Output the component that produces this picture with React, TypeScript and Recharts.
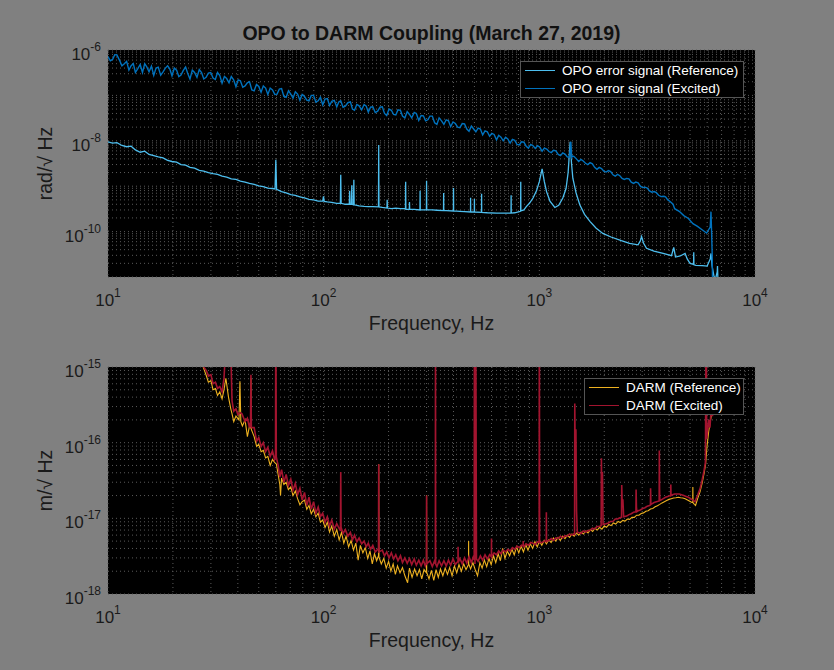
import React from 'react';
import { LineChart, Line, XAxis, YAxis, CartesianGrid, Legend } from 'recharts';

/**
 * OPO to DARM coupling — two stacked log-log spectra (MATLAB look:
 * grey figure, black axes, dotted minor grid).
 */

const FONT = '"Liberation Sans", Arial, Helvetica, sans-serif';
const INK = '#1a1a1a';
const GRID = '#5a5a5a';

// ---- top panel: OPO error signal, reference ----
const topRefFreq = [
  10, 10.5, 11, 11.6, 12.2, 12.8, 13.4, 14.1, 14.8, 15.5,
  16.3, 17.1, 18, 18.9, 19.8, 20.8, 21.8, 22.9, 24, 25.2,
  26.5, 27.8, 29.2, 30.7, 32.2, 33.8, 35.5, 37.3, 39.2, 41.1,
  43.2, 45.3, 47.6, 50, 52.5, 55.1, 57.9, 59.5, 60, 60.5,
  63.8, 67, 70.4, 73.9, 77.6, 81.5, 85.5, 89.8, 94.3, 99,
  99.8, 100.6, 104, 109, 115, 119.5, 120, 120.5, 126, 131.5,
  132, 132.5, 134.5, 135, 135.5, 137.5, 138, 138.5, 146, 154,
  161, 169, 179.5, 180, 180.5, 187, 196.5, 197, 197.5, 206,
  216, 227, 239.5, 240, 240.5, 249.5, 250, 250.5, 263, 279.5,
  280, 280.5, 290, 299.5, 300, 300.5, 319, 335, 359.5, 360,
  360.5, 370, 399.5, 400, 400.5, 428, 450, 479.5, 480, 480.5,
  499.5, 500, 500.5, 539.5, 540, 540.5, 574, 633, 697, 739,
  740, 741, 769, 807, 819, 820, 821, 848, 870, 900,
  935, 970, 1000, 1030, 1055, 1080, 1120, 1180, 1230, 1285,
  1330, 1360, 1390, 1410, 1430, 1480, 1540, 1620, 1720, 1830,
  1970, 2150, 2400, 2620, 2870, 2940, 2980, 3040, 3140, 3400,
  3750, 4100, 4200, 4280, 4500, 4740, 4850, 5000, 5190, 5200,
  5210, 5320, 5700, 6000, 6200, 6250, 6320, 6450, 6550, 6680,
  6700, 6760,
];
const topRefVal = [
  9.5e-9, 8.9e-9, 9.1e-9, 7.9e-9, 7.4e-9, 7.6e-9, 6.3e-9, 5.6e-9, 5.9e-9, 5.0e-9,
  4.7e-9, 4.4e-9, 4.2e-9, 3.7e-9, 3.5e-9, 3.4e-9, 3.0e-9, 2.9e-9, 2.6e-9, 2.5e-9,
  2.24e-9, 2.14e-9, 2.0e-9, 1.9e-9, 1.82e-9, 1.66e-9, 1.58e-9, 1.45e-9, 1.41e-9, 1.29e-9,
  1.23e-9, 1.15e-9, 1.1e-9, 1.02e-9, 9.8e-10, 9.1e-10, 8.9e-10, 8.7e-10, 3.8e-9, 8.5e-10,
  7.6e-10, 7.1e-10, 6.5e-10, 6.3e-10, 5.8e-10, 5.5e-10, 5.1e-10, 5.0e-10, 4.7e-10, 4.7e-10,
  6.0e-10, 4.6e-10, 4.5e-10, 4.4e-10, 4.2e-10, 4.2e-10, 1.78e-9, 4.2e-10, 4.0e-10, 4.0e-10,
  7.9e-10, 4.0e-10, 4.0e-10, 1.05e-9, 4.0e-10, 3.9e-10, 1.38e-9, 3.9e-10, 3.7e-10, 3.6e-10,
  3.55e-10, 3.55e-10, 3.5e-10, 8.1e-9, 3.5e-10, 3.4e-10, 3.3e-10, 5.0e-10, 3.3e-10, 3.2e-10,
  3.3e-10, 3.2e-10, 3.2e-10, 1.26e-9, 3.1e-10, 3.1e-10, 4.5e-10, 3.1e-10, 3.1e-10, 3.0e-10,
  7.9e-10, 3.0e-10, 3.0e-10, 3.0e-10, 1.32e-9, 3.0e-10, 3.0e-10, 2.95e-10, 2.9e-10, 7.1e-10,
  2.9e-10, 2.9e-10, 2.85e-10, 9.1e-10, 2.85e-10, 2.8e-10, 2.75e-10, 2.7e-10, 5.6e-10, 2.7e-10,
  2.7e-10, 5.2e-10, 2.7e-10, 2.65e-10, 6.8e-10, 2.65e-10, 2.6e-10, 2.55e-10, 2.55e-10, 2.55e-10,
  6.3e-10, 2.55e-10, 2.6e-10, 2.75e-10, 2.8e-10, 1.26e-9, 2.85e-10, 3.0e-10, 3.55e-10, 4.2e-10,
  5.5e-10, 7.9e-10, 1.26e-9, 2.4e-9, 1.26e-9, 7.6e-10, 4.7e-10, 3.4e-10, 3.8e-10, 5.5e-10,
  8.9e-10, 2.0e-9, 9.5e-9, 3.2e-9, 1.5e-9, 7.1e-10, 3.9e-10, 2.4e-10, 1.66e-10, 1.2e-10,
  9.1e-11, 7.6e-11, 6.3e-11, 5.5e-11, 5.1e-11, 6.3e-11, 7.8e-11, 5.6e-11, 4.3e-11, 3.7e-11,
  3.3e-11, 2.95e-11, 4.5e-11, 2.75e-11, 2.9e-11, 3.3e-11, 2.5e-11, 2.0e-11, 1.9e-11, 3.5e-11,
  1.85e-11, 1.8e-11, 1.78e-11, 1.74e-11, 2.5e-11, 3.3e-11, 1.78e-11, 1.05e-11, 8.9e-12, 1.3e-11,
  1.74e-11, 5e-12,
];

// ---- top panel: OPO error signal, excited (dense, noisy) ----
const topExcFreq = [
  10, 10.25, 10.5, 10.75, 11, 11.3, 11.6, 11.9, 12.2, 12.5,
  12.8, 13.1, 13.4, 13.75, 14.1, 14.45, 14.8, 15.15, 15.5, 15.9,
  16.3, 16.7, 17.1, 17.55, 18, 18.45, 18.9, 19.35, 19.8, 20.3,
  20.8, 21.3, 21.8, 22.35, 22.9, 23.45, 24, 24.6, 25.2, 25.85,
  26.5, 27.15, 27.8, 28.5, 29.2, 29.95, 30.7, 31.45, 32.2, 33,
  33.8, 34.65, 35.5, 36.4, 37.3, 38.25, 39.2, 40.15, 41.1, 42.15,
  43.2, 44.25, 45.3, 46.45, 47.6, 48.8, 50, 51.25, 52.5, 53.8,
  55.1, 56.5, 57.9, 59.35, 60.8, 62.3, 63.8, 65.4, 67, 68.7,
  70.4, 72.1, 73.9, 75.7, 77.6, 79.5, 81.5, 83.5, 85.5, 87.6,
  89.8, 92, 94.3, 96.6, 99, 101.5, 104, 106.5, 109, 112,
  115, 117.5, 120, 123, 126, 129.5, 133, 136, 139, 142.5,
  146, 150, 154, 157.5, 161, 165, 169, 173.5, 178, 182.5,
  187, 191.5, 196, 201, 206, 211, 216, 221, 227, 232,
  238, 244, 250, 256, 263, 269, 276, 283, 290, 297,
  304, 311, 319, 327, 335, 343, 352, 361, 370, 379,
  388, 398, 408, 418, 428, 439, 450, 461, 472, 484,
  496, 508, 520, 533, 546, 560, 574, 588, 602, 617,
  633, 648, 664, 680, 697, 714, 732, 750, 769, 788,
  807, 827, 848, 869, 890, 912, 935, 958, 981, 1005,
  1030, 1055, 1082, 1108, 1136, 1164, 1193, 1223, 1253, 1284,
  1315, 1348, 1381, 1400, 1412, 1430, 1450, 1485, 1522, 1560,
  1598, 1637, 1678, 1719, 1762, 1805, 1850, 1895, 1943, 1990,
  2040, 2090, 2142, 2195, 2249, 2304, 2362, 2420, 2480, 2540,
  2604, 2668, 2734, 2800, 2871, 2942, 3014, 3088, 3165, 3243,
  3323, 3405, 3489, 3575, 3664, 3755, 3847, 3942, 4039, 4170,
  4241, 4453, 4676, 4910, 5155, 5413, 5684, 5968, 6200, 6250,
  6290, 6330, 6360, 6400,
];
const topExcVal = [
  7.2e-7, 5.8e-7, 6.2e-7, 7.9e-7, 7.8e-7, 6.0e-7, 4.5e-7, 5.0e-7, 5.6e-7, 3.6e-7,
  4.5e-7, 5.0e-7, 3.2e-7, 3.9e-7, 4.8e-7, 3.2e-7, 5.0e-7, 4.2e-7, 3.3e-7, 4.4e-7,
  2.75e-7, 4.0e-7, 4.2e-7, 2.8e-7, 3.3e-7, 4.0e-7, 4.5e-7, 3.8e-7, 2.7e-7, 4.0e-7,
  3.6e-7, 2.6e-7, 2.8e-7, 3.55e-7, 4.2e-7, 3.0e-7, 2.3e-7, 3.6e-7, 3.2e-7, 2.5e-7,
  3.7e-7, 3.2e-7, 2.3e-7, 2.5e-7, 3.1e-7, 3.2e-7, 2.4e-7, 2.24e-7, 3.2e-7, 2.75e-7,
  1.86e-7, 2.6e-7, 2.35e-7, 1.9e-7, 2.6e-7, 2.2e-7, 1.55e-7, 2.2e-7, 2.1e-7, 1.51e-7,
  1.62e-7, 1.9e-7, 2.0e-7, 1.32e-7, 1.26e-7, 1.74e-7, 1.58e-7, 1.17e-7, 1.62e-7, 1.45e-7,
  1.05e-7, 1.45e-7, 1.32e-7, 1.05e-7, 1.07e-7, 1.38e-7, 1.41e-7, 9.5e-8, 9.1e-8, 1.26e-7,
  1.07e-7, 8.7e-8, 1.2e-7, 1.07e-7, 7.8e-8, 1.05e-7, 9.5e-8, 7.9e-8, 7.6e-8, 1.0e-7,
  1.0e-7, 7.1e-8, 7.6e-8, 9.1e-8, 6.2e-8, 8.3e-8, 8.5e-8, 6.0e-8, 7.4e-8, 7.8e-8,
  5.6e-8, 7.2e-8, 7.6e-8, 5.5e-8, 5.8e-8, 6.9e-8, 7.2e-8, 5.0e-8, 4.7e-8, 6.3e-8,
  5.9e-8, 4.8e-8, 6.3e-8, 5.8e-8, 4.3e-8, 5.5e-8, 5.6e-8, 4.2e-8, 4.5e-8, 5.5e-8,
  5.6e-8, 4.0e-8, 3.6e-8, 5.0e-8, 4.7e-8, 3.8e-8, 3.7e-8, 4.8e-8, 4.7e-8, 3.5e-8,
  3.2e-8, 4.4e-8, 3.8e-8, 3.2e-8, 4.2e-8, 4.0e-8, 2.8e-8, 3.6e-8, 3.55e-8, 2.75e-8,
  2.9e-8, 3.5e-8, 3.5e-8, 2.5e-8, 2.3e-8, 3.2e-8, 2.75e-8, 2.3e-8, 2.9e-8, 2.75e-8,
  2.05e-8, 2.6e-8, 2.4e-8, 2.0e-8, 1.95e-8, 2.4e-8, 2.35e-8, 1.82e-8, 1.62e-8, 2.1e-8,
  1.82e-8, 1.58e-8, 1.9e-8, 1.82e-8, 1.35e-8, 1.66e-8, 1.58e-8, 1.26e-8, 1.45e-8, 1.38e-8,
  1.05e-8, 1.32e-8, 1.2e-8, 1.0e-8, 1.2e-8, 1.1e-8, 8.9e-9, 1.07e-8, 1.02e-8, 8.3e-9,
  8.1e-9, 9.5e-9, 9.3e-9, 7.6e-9, 6.9e-9, 8.3e-9, 7.8e-9, 6.8e-9, 7.8e-9, 7.2e-9,
  5.9e-9, 6.9e-9, 6.6e-9, 5.8e-9, 5.5e-9, 6.2e-9, 6.0e-9, 5.0e-9, 4.7e-9, 5.4e-9,
  5.1e-9, 4.4e-9, 4.3e-9, 9.5e-9, 4.3e-9, 4.6e-9, 4.5e-9, 4.0e-9, 3.5e-9, 3.9e-9,
  3.6e-9, 3.2e-9, 3.0e-9, 3.3e-9, 3.1e-9, 2.6e-9, 2.35e-9, 2.6e-9, 2.45e-9, 2.14e-9,
  2.05e-9, 2.2e-9, 2.1e-9, 1.78e-9, 1.66e-9, 1.82e-9, 1.7e-9, 1.48e-9, 1.41e-9, 1.48e-9,
  1.45e-9, 1.23e-9, 1.15e-9, 1.23e-9, 1.18e-9, 1.0e-9, 9.3e-10, 9.5e-10, 9.1e-10, 7.9e-10,
  7.4e-10, 7.6e-10, 7.2e-10, 6.3e-10, 5.9e-10, 6.0e-10, 5.8e-10, 5.0e-10, 4.6e-10, 4.0e-10,
  3.2e-10, 2.8e-10, 2.25e-10, 1.95e-10, 1.5e-10, 1.3e-10, 1.1e-10, 9.3e-11, 1.26e-10, 2.75e-10,
  1.0e-10, 3.2e-11, 6e-12, 5e-12,
];

// ---- bottom panel: DARM, reference ----
const botRefFreq = [
  25.2, 26.5, 27.8, 28.6, 29.2, 30, 30.7, 31.5, 32.2, 33,
  33.8, 34.5, 35.2, 36.2, 37.1, 37.6, 38.3, 39.2, 40.5, 40.9,
  41.3, 42, 43.2, 44.3, 45.3, 45.8, 46, 46.2, 47.6, 48.9,
  50, 51.3, 52.5, 53.8, 55.1, 56.5, 57.9, 59.2, 60.4, 61.5,
  62.6, 63.1, 63.8, 65.4, 67, 68.6, 70.4, 72.1, 73.9, 75.7,
  77.6, 79.5, 81.5, 83.5, 85.5, 87.6, 89.8, 92, 94.3, 96.6,
  99, 101.5, 104, 106.5, 109, 112, 115, 118, 121, 124,
  127, 130.5, 134, 137.5, 141, 144.5, 148, 152, 156, 160,
  164, 168, 172, 176, 179.6, 180, 180.4, 185, 190, 195,
  200, 205, 210, 215, 220, 226, 232, 238, 245, 250,
  257, 264, 271, 278, 285, 292, 299.6, 300, 300.4, 308,
  316, 324, 332, 340, 348, 357, 366, 375, 384, 394,
  404, 414, 424, 435, 446, 457, 469.5, 470, 470.5, 480,
  492, 504, 517, 530, 543, 556, 570, 584, 598, 613,
  628, 644, 660, 676, 693, 710, 728, 746, 765, 784,
  803, 823, 844, 865, 886, 908, 931, 954, 978, 1002,
  1027, 1053, 1079, 1106, 1134, 1162, 1191, 1221, 1251, 1283,
  1315, 1348, 1381, 1416, 1451, 1487, 1524, 1562, 1601, 1641,
  1682, 1724, 1767, 1811, 1856, 1903, 1950, 1999, 2049, 2100,
  2153, 2207, 2262, 2318, 2376, 2436, 2497, 2559, 2623, 2688,
  2756, 2825, 2895, 2968, 3042, 3118, 3196, 3276, 3358, 3442,
  3528, 3616, 3706, 3799, 3894, 3991, 4091, 4193, 4298, 4406,
  4516, 4629, 4744, 4863, 4984, 5100, 5145, 5150, 5160, 5236,
  5300, 5420, 5560, 5690, 5810, 5900, 5990, 6100, 6200, 6300,
  6400,
];
const botRefVal = [
  2.2e-15, 1.4e-15, 9.5e-16, 7.6e-16, 6.3e-16, 6.6e-16, 5.0e-16, 5.2e-16, 4.2e-16, 4.7e-16,
  3.8e-16, 5.0e-16, 7.1e-16, 4.0e-16, 2.8e-16, 2.4e-16, 1.9e-16, 2.24e-16, 2.0e-16, 6.5e-16,
  1.9e-16, 1.66e-16, 2.0e-16, 1.2e-16, 1.66e-16, 1.58e-16, 7.1e-16, 1.5e-16, 1.2e-16, 8.9e-17,
  9.5e-17, 7.6e-17, 7.9e-17, 6.3e-17, 6.6e-17, 5.0e-17, 6.0e-17, 5.5e-17, 5.2e-17, 3.8e-17,
  2.8e-17, 2.0e-17, 3.4e-17, 2.8e-17, 3.0e-17, 2.4e-17, 2.6e-17, 2.0e-17, 2.3e-17, 1.82e-17,
  1.51e-17, 1.66e-17, 1.74e-17, 1.32e-17, 1.48e-17, 1.15e-17, 1.32e-17, 1.05e-17, 1.17e-17, 8.9e-18,
  9.5e-18, 7.6e-18, 8.9e-18, 6.6e-18, 7.9e-18, 5.8e-18, 7.1e-18, 5.2e-18, 6.5e-18, 4.7e-18,
  5.8e-18, 4.2e-18, 5.1e-18, 3.8e-18, 4.7e-18, 2.8e-18, 4.4e-18, 3.5e-18, 4.1e-18, 2.95e-18,
  3.7e-18, 2.5e-18, 3.4e-18, 2.75e-18, 3.2e-18, 5.2e-17, 3.1e-18, 2.5e-18, 2.95e-18, 2.2e-18,
  2.7e-18, 2.0e-18, 2.5e-18, 1.82e-18, 2.35e-18, 1.9e-18, 2.24e-18, 1.74e-18, 1.41e-18, 2.2e-18,
  1.66e-18, 2.14e-18, 1.74e-18, 2.1e-18, 1.58e-18, 2.1e-18, 1.9e-18, 2.0e-17, 1.95e-18, 1.58e-18,
  2.05e-18, 1.51e-18, 2.1e-18, 1.66e-18, 2.14e-18, 1.74e-18, 2.2e-18, 1.82e-18, 2.24e-18, 1.74e-18,
  2.35e-18, 1.9e-18, 2.45e-18, 2.0e-18, 2.5e-18, 2.1e-18, 2.45e-18, 5.0e-18, 2.5e-18, 2.14e-18,
  2.6e-18, 2.1e-18, 1.74e-18, 2.6e-18, 2.2e-18, 2.8e-18, 2.3e-18, 2.95e-18, 2.45e-18, 3.2e-18,
  2.6e-18, 3.4e-18, 2.75e-18, 4.0e-18, 2.95e-18, 3.7e-18, 3.2e-18, 3.9e-18, 3.3e-18, 4.2e-18,
  3.5e-18, 4.3e-18, 3.6e-18, 4.5e-18, 3.8e-18, 4.6e-18, 4.0e-18, 4.9e-18, 4.2e-18, 5.0e-18,
  4.4e-18, 5.1e-18, 4.6e-18, 5.2e-18, 4.8e-18, 5.5e-18, 5.0e-18, 5.6e-18, 5.1e-18, 5.8e-18,
  5.4e-18, 6.0e-18, 5.6e-18, 6.2e-18, 5.8e-18, 6.4e-18, 6.0e-18, 6.6e-18, 6.2e-18, 6.8e-18,
  6.4e-18, 7.1e-18, 6.7e-18, 7.4e-18, 7.0e-18, 7.6e-18, 7.2e-18, 7.9e-18, 7.6e-18, 8.3e-18,
  8.0e-18, 8.7e-18, 8.4e-18, 9.1e-18, 8.8e-18, 9.4e-18, 9.2e-18, 9.8e-18, 9.7e-18, 1.03e-17,
  1.03e-17, 1.1e-17, 1.1e-17, 1.16e-17, 1.18e-17, 1.24e-17, 1.26e-17, 1.33e-17, 1.35e-17, 1.42e-17,
  1.47e-17, 1.53e-17, 1.6e-17, 1.66e-17, 1.72e-17, 1.78e-17, 1.82e-17, 1.86e-17, 1.87e-17, 1.9e-17,
  1.87e-17, 1.86e-17, 1.82e-17, 1.75e-17, 1.68e-17, 1.62e-17, 1.62e-17, 2.6e-17, 1.6e-17, 1.53e-17,
  1.48e-17, 1.82e-17, 2.24e-17, 2.95e-17, 4.0e-17, 5.2e-17, 8.9e-17, 1.41e-16, 1.9e-16, 2.4e-16,
  2.5e-16,
];

// ---- bottom panel: DARM, excited ----
const botExcFreq = [
  25.2, 26.5, 27.8, 28.6, 29.2, 30, 30.7, 31.5, 32.2, 33,
  33.8, 34.5, 35.2, 36.2, 37.1, 37.6, 38.3, 39.2, 40, 40.9,
  41.8, 43.2, 44.3, 45.3, 45.8, 46, 46.2, 47.6, 48.9, 50,
  51.3, 52.5, 53.8, 55.1, 56.5, 57.9, 59.2, 59.8, 60, 60.3,
  61.5, 62.6, 63.8, 65.4, 67, 68.6, 70.4, 72.1, 73.9, 75.7,
  77.6, 79.5, 81.5, 83.5, 85.5, 87.6, 89.8, 92, 94.3, 96.6,
  99, 101.5, 104, 106.5, 109, 112, 115, 119.6, 120, 120.4,
  123, 126, 129.5, 133, 136, 139, 142.5, 146, 150, 154,
  157.5, 161, 165, 169, 173.5, 179.6, 180, 180.4, 187, 191.5,
  196, 201, 206, 211, 216, 221, 227, 232, 238, 244,
  250, 256, 263, 269, 276, 283, 290, 296, 299.6, 300,
  300.4, 311, 319, 327, 329.5, 330, 330.6, 335, 343, 352,
  361, 370, 379, 388, 398, 408, 419.5, 420, 420.5, 428,
  439, 450, 461, 472, 484, 496, 499, 500, 503, 507,
  511, 520, 533, 546, 560, 574, 588, 599.5, 600, 600.5,
  617, 633, 648, 664, 680, 697, 714, 732, 750, 769,
  788, 807, 827, 841.5, 842, 842.5, 848, 869, 890, 912,
  935, 958, 981, 998, 1000, 1003, 1030, 1055, 1077, 1078,
  1080, 1108, 1136, 1164, 1193, 1223, 1253, 1284, 1315, 1348,
  1381, 1415, 1450, 1457, 1460, 1468, 1478, 1488, 1500, 1522,
  1560, 1598, 1637, 1678, 1719, 1762, 1805, 1850, 1895, 1935,
  1940, 1950, 1962, 1975, 2040, 2090, 2142, 2195, 2249, 2304,
  2362, 2405, 2410, 2425, 2440, 2460, 2540, 2604, 2668, 2734,
  2805, 2810, 2820, 2835, 2871, 2942, 3014, 3088, 3165, 3243,
  3275, 3280, 3290, 3323, 3405, 3489, 3595, 3600, 3610, 3620,
  3664, 3755, 3847, 3942, 4039, 4065, 4070, 4080, 4140, 4241,
  4345, 4453, 4563, 4676, 4791, 4910, 5031, 5155, 5270, 5413,
  5560, 5684, 5800, 5890, 5940, 5970, 6050, 6110, 6180, 6266,
  6350, 6430, 6520,
];
const botExcVal = [
  2.5e-15, 1.58e-15, 1.0e-15, 8.9e-16, 7.6e-16, 7.9e-16, 6.0e-16, 6.3e-16, 5.2e-16, 5.5e-16,
  4.7e-16, 7.1e-16, 2.0e-15, 3.2e-15, 1.58e-15, 3.55e-16, 2.6e-16, 2.8e-16, 2.35e-16, 2.5e-16,
  2.4e-16, 1.9e-16, 2.1e-16, 1.58e-16, 1.9e-16, 7.9e-16, 1.58e-16, 1.58e-16, 1.05e-16, 1.17e-16,
  8.9e-17, 1.0e-16, 7.6e-17, 8.7e-17, 6.6e-17, 7.8e-17, 6.0e-17, 6.5e-17, 1e-14, 6.5e-17,
  5.0e-17, 3.5e-17, 4.4e-17, 3.0e-17, 3.8e-17, 2.7e-17, 3.3e-17, 2.35e-17, 2.9e-17, 2.05e-17,
  2.5e-17, 1.74e-17, 2.2e-17, 1.48e-17, 1.9e-17, 1.32e-17, 1.66e-17, 1.17e-17, 1.41e-17, 1.05e-17,
  1.17e-17, 8.9e-18, 1.05e-17, 7.9e-18, 9.5e-18, 7.2e-18, 8.5e-18, 6.8e-18, 4.1e-17, 7.6e-18,
  6.3e-18, 7.1e-18, 5.8e-18, 6.5e-18, 5.2e-18, 6.0e-18, 4.9e-18, 5.5e-18, 4.6e-18, 5.0e-18,
  4.2e-18, 4.7e-18, 3.9e-18, 4.4e-18, 3.6e-18, 4.0e-18, 5.2e-17, 3.6e-18, 3.8e-18, 3.2e-18,
  3.6e-18, 3.0e-18, 3.5e-18, 2.9e-18, 3.3e-18, 2.75e-18, 3.2e-18, 2.6e-18, 3.0e-18, 2.55e-18,
  2.95e-18, 2.45e-18, 2.9e-18, 2.4e-18, 2.8e-18, 2.35e-18, 2.8e-18, 2.35e-18, 2.6e-18, 2.0e-17,
  2.5e-18, 2.75e-18, 2.3e-18, 2.75e-18, 2.5e-18, 1e-14, 2.5e-18, 2.3e-18, 2.75e-18, 2.35e-18,
  2.75e-18, 2.35e-18, 2.8e-18, 2.4e-18, 2.9e-18, 2.45e-18, 2.7e-18, 4.2e-18, 2.6e-18, 2.95e-18,
  2.5e-18, 3.0e-18, 2.55e-18, 3.1e-18, 2.6e-18, 3.2e-18, 2.8e-18, 1e-14, 2.5e-18, 1e-14,
  2.9e-18, 2.7e-18, 3.2e-18, 2.8e-18, 3.3e-18, 2.9e-18, 3.3e-18, 3.1e-18, 5.4e-18, 3.1e-18,
  3.5e-18, 3.3e-18, 3.7e-18, 3.4e-18, 3.8e-18, 3.6e-18, 3.9e-18, 3.7e-18, 4.1e-18, 3.9e-18,
  4.3e-18, 4.1e-18, 4.4e-18, 4.3e-18, 5.0e-18, 4.3e-18, 4.2e-18, 4.6e-18, 4.4e-18, 4.8e-18,
  4.7e-18, 4.5e-18, 4.9e-18, 4.8e-18, 1e-14, 4.8e-18, 4.8e-18, 5.0e-18, 4.9e-18, 1.2e-17,
  5.0e-18, 5.1e-18, 5.4e-18, 5.1e-18, 5.5e-18, 5.4e-18, 5.8e-18, 5.5e-18, 5.9e-18, 5.8e-18,
  6.2e-18, 6.0e-18, 6.3e-18, 6.2e-18, 3.3e-16, 5.0e-17, 1.5e-16, 1.26e-17, 6.5e-18, 6.5e-18,
  6.3e-18, 6.8e-18, 6.6e-18, 6.9e-18, 6.9e-18, 7.4e-18, 7.2e-18, 7.8e-18, 7.8e-18, 8.0e-18,
  6.2e-17, 1.6e-17, 4.1e-17, 8.3e-18, 8.5e-18, 8.7e-18, 9.1e-18, 9.1e-18, 9.8e-18, 9.8e-18,
  1.02e-17, 1.03e-17, 2.75e-17, 1.4e-17, 1.78e-17, 1.05e-17, 1.07e-17, 1.12e-17, 1.15e-17, 1.2e-17,
  1.22e-17, 2.4e-17, 1.4e-17, 1.23e-17, 1.26e-17, 1.29e-17, 1.35e-17, 1.38e-17, 1.45e-17, 1.48e-17,
  1.5e-17, 2.5e-17, 1.52e-17, 1.55e-17, 1.62e-17, 1.66e-17, 1.7e-17, 7.9e-17, 2.5e-17, 1.72e-17,
  1.74e-17, 1.82e-17, 1.9e-17, 1.95e-17, 2.0e-17, 2.0e-17, 2.8e-17, 2.0e-17, 2.05e-17, 2.1e-17,
  2.1e-17, 2.1e-17, 2.05e-17, 2.0e-17, 1.95e-17, 1.9e-17, 1.82e-17, 1.74e-17, 1.66e-17, 2.0e-17,
  2.45e-17, 3.2e-17, 4.2e-17, 5.5e-17, 1e-14, 1.12e-16, 1.58e-16, 2.0e-16, 1.58e-16, 2.8e-16,
  2.24e-16, 3.55e-16, 3.8e-16,
];

// decades that carry a "10^n" label on each axis
const xLabelExps = [1, 2, 3, 4];
const topYLabelExps = [-10, -8, -6];
const botYLabelExps = [-18, -17, -16, -15];

// legend rows, top to bottom
const topLegendOrder = ['OPO error signal (Reference)', 'OPO error signal (Excited)'];
const botLegendOrder = ['DARM (Reference)', 'DARM (Excited)'];

const toPoints = (freq: number[], vals: number[]) => freq.map((f, i) => ({ f, v: vals[i] }));

// 1..9 x 10^e for every decade — used for the minor grid
function logTicks(lo: number, hi: number): number[] {
  const out: number[] = [];
  for (let e = lo; e < hi; e++) {
    for (let m = 1; m <= 9; m++) out.push(Number((m * Math.pow(10, e)).toPrecision(3)));
  }
  out.push(Math.pow(10, hi));
  return out;
}

const xTicks = logTicks(1, 4);
const topYTicks = logTicks(-11, -6);
const botYTicks = logTicks(-18, -15);

function decadeOf(v: number): number | null {
  const l = Math.log10(v);
  const e = Math.round(l);
  return Math.abs(l - e) < 1e-6 ? e : null;
}

function PowerText({ x, y, exp, anchor }: { x: number; y: number; exp: number; anchor: 'start' | 'middle' | 'end' }) {
  return (
    <text x={x} y={y} textAnchor={anchor} fill={INK} fontFamily={FONT} fontSize={17}>
      <tspan>10</tspan>
      <tspan dy={-9} fontSize={12}>{String(exp)}</tspan>
    </text>
  );
}

function XTick(props: any) {
  const e = decadeOf(props.payload.value);
  if (e === null || !xLabelExps.includes(e)) return <g />;
  return <PowerText x={props.x} y={props.y + 21} exp={e} anchor="middle" />;
}

const makeYTick = (labels: number[]) => (props: any) => {
  const e = decadeOf(props.payload.value);
  if (e === null || !labels.includes(e)) return <g />;
  return <PowerText x={props.x + 1} y={props.y + 10} exp={e} anchor="end" />;
};

const TopYTick = makeYTick(topYLabelExps);
const BotYTick = makeYTick(botYLabelExps);

const xAxisLabel = (props: any) => {
  const vb = props.viewBox ?? { x: 108, y: 277, width: 647 };
  return (
    <text x={vb.x + vb.width / 2} y={vb.y + 53} textAnchor="middle" fill={INK} fontFamily={FONT} fontSize={19.5}>
      Frequency, Hz
    </text>
  );
};

const yAxisLabel = (text: string) => (props: any) => {
  const vb = props.viewBox ?? { y: 50, height: 227 };
  const cy = vb.y + vb.height / 2;
  const x = 52;
  return (
    <text x={x} y={cy} transform={`rotate(-90 ${x} ${cy})`} textAnchor="middle" fill={INK} fontFamily={FONT} fontSize={19.5}>
      {text}
    </text>
  );
};

const makeLegend = (order: string[]) => (props: any) => {
  const payload = [...(props.payload ?? [])].sort(
    (a: any, b: any) => order.indexOf(a.value) - order.indexOf(b.value),
  );
  return (
    <div
      style={{
        background: '#000',
        border: '1px solid #555',
        fontFamily: FONT,
        fontSize: 13.5,
        color: '#fff',
        paddingLeft: 4,
      }}
    >
      {payload.map((p: any) => (
        <div key={p.value} style={{ display: 'flex', alignItems: 'center', height: 17.5, whiteSpace: 'nowrap' }}>
          <span style={{ display: 'inline-block', width: 30, borderTop: `1px solid ${p.color}`, marginRight: 7 }} />
          <span>{p.value}</span>
        </div>
      ))}
    </div>
  );
};

const TopLegend = makeLegend(topLegendOrder);
const BotLegend = makeLegend(botLegendOrder);

const topRefPoints = toPoints(topRefFreq, topRefVal);
const topExcPoints = toPoints(topExcFreq, topExcVal);
const botRefPoints = toPoints(botRefFreq, botRefVal);
const botExcPoints = toPoints(botExcFreq, botExcVal);

export default function App() {
  return (
    <div style={{ position: 'fixed', left: 0, top: 0, width: 834, height: 670, background: '#808080', overflow: 'hidden' }}>
      <div style={{ position: 'absolute', left: 0, top: 0 }}>
        <LineChart width={834} height={335} margin={{ top: 50, right: 79, bottom: 28, left: 48 }}>
          <CartesianGrid stroke={GRID} strokeDasharray="1 3" fill="#000" fillOpacity={1} />
          <XAxis
            dataKey="f"
            type="number"
            scale="log"
            domain={[10, 10000]}
            ticks={xTicks}
            interval={0}
            tick={XTick}
            tickLine={false}
            axisLine={false}
            allowDataOverflow
            height={30}
            label={xAxisLabel}
          />
          <YAxis
            type="number"
            scale="log"
            domain={[1e-11, 1e-6]}
            ticks={topYTicks}
            interval={0}
            tick={TopYTick}
            tickLine={false}
            axisLine={false}
            allowDataOverflow
            width={60}
            label={yAxisLabel('rad/√ Hz')}
          />
          <Legend
            layout="vertical"
            align="center"
            verticalAlign="middle"
            content={TopLegend}
            wrapperStyle={{ left: 520, top: 61, width: 224 }}
          />
          <Line
            data={topRefPoints}
            dataKey="v"
            name="OPO error signal (Reference)"
            type="linear"
            stroke="#4DBEEE"
            strokeWidth={1.3}
            dot={false}
            activeDot={false}
            isAnimationActive={false}
          />
          <Line
            data={topExcPoints}
            dataKey="v"
            name="OPO error signal (Excited)"
            type="linear"
            stroke="#0072BD"
            strokeWidth={1.4}
            dot={false}
            activeDot={false}
            isAnimationActive={false}
          />
        </LineChart>
      </div>

      <div style={{ position: 'absolute', left: 0, top: 335 }}>
        <LineChart width={834} height={335} margin={{ top: 32, right: 79, bottom: 46, left: 48 }}>
          <CartesianGrid stroke={GRID} strokeDasharray="1 3" fill="#000" fillOpacity={1} />
          <XAxis
            dataKey="f"
            type="number"
            scale="log"
            domain={[10, 10000]}
            ticks={xTicks}
            interval={0}
            tick={XTick}
            tickLine={false}
            axisLine={false}
            allowDataOverflow
            height={30}
            label={xAxisLabel}
          />
          <YAxis
            type="number"
            scale="log"
            domain={[1e-18, 1e-15]}
            ticks={botYTicks}
            interval={0}
            tick={BotYTick}
            tickLine={false}
            axisLine={false}
            allowDataOverflow
            width={60}
            label={yAxisLabel('m/√ Hz')}
          />
          <Legend
            layout="vertical"
            align="center"
            verticalAlign="middle"
            content={BotLegend}
            wrapperStyle={{ left: 584, top: 43, width: 160 }}
          />
          <Line
            data={botRefPoints}
            dataKey="v"
            name="DARM (Reference)"
            type="linear"
            stroke="#EDB120"
            strokeWidth={1.1}
            dot={false}
            activeDot={false}
            isAnimationActive={false}
          />
          <Line
            data={botExcPoints}
            dataKey="v"
            name="DARM (Excited)"
            type="linear"
            stroke="#A2142F"
            strokeWidth={1.6}
            dot={false}
            activeDot={false}
            isAnimationActive={false}
          />
        </LineChart>
      </div>

      <div
        style={{
          position: 'absolute',
          left: 108,
          top: 23,
          width: 647,
          textAlign: 'center',
          fontFamily: FONT,
          fontWeight: 'bold',
          fontSize: 19.5,
          lineHeight: '20px',
          color: '#111',
        }}
      >
        OPO to DARM Coupling (March 27, 2019)
      </div>
    </div>
  );
}
